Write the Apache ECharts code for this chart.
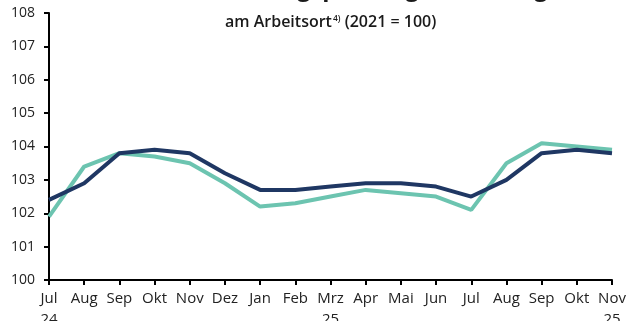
<!DOCTYPE html>
<html>
<head>
<meta charset="utf-8">
<script src="https://cdn.jsdelivr.net/npm/echarts@6/dist/echarts.min.js"></script>
<style>
  html, body { margin: 0; padding: 0; background: #fff; }
  #chart { width: 626px; height: 321px; }
</style>
</head>
<body>
<div id="chart"></div>
<script>
// Monthly index values, July 2024 – November 2025 (2021 = 100)
const months = ['Jul\n24', 'Aug', 'Sep', 'Okt', 'Nov', 'Dez', 'Jan', 'Feb', 'Mrz\n25', 'Apr', 'Mai', 'Jun', 'Jul', 'Aug', 'Sep', 'Okt', 'Nov\n25'];
const seriesTeal = [101.9, 103.4, 103.8, 103.7, 103.5, 102.9, 102.2, 102.3, 102.5, 102.7, 102.6, 102.5, 102.1, 103.5, 104.1, 104.0, 103.9];
const seriesNavy = [102.4, 102.9, 103.8, 103.9, 103.8, 103.2, 102.7, 102.7, 102.8, 102.9, 102.9, 102.8, 102.5, 103.0, 103.8, 103.9, 103.8];
const yTicks = { min: 100, max: 108, interval: 1 };

const FONT = '"Open Sans", "Noto Sans", sans-serif';
const chart = echarts.init(document.getElementById('chart'), null, { renderer: 'canvas' });

chart.setOption({
  animation: false,
  backgroundColor: '#ffffff',
  textStyle: { fontFamily: FONT },
  grid: { left: 49, right: 14, top: 13, bottom: 41, containLabel: false, outerBoundsMode: 'none' },
  graphic: [
    {
      type: 'text',
      left: 90,
      top: -23,
      style: {
        text: 'Sozialversicherungspflichtig Beschäftigte',
        font: 'bold 23.5px ' + FONT,
        fill: '#1a1a1a'
      },
      silent: true
    },
    {
      type: 'text',
      left: 225,
      top: 13,
      style: {
        text: 'am Arbeitsort{sup|4)} (2021 = 100)',
        font: '600 16px ' + FONT,
        fill: '#1a1a1a',
        lineHeight: 18,
        rich: {
          sup: { fontSize: 8.5, fontWeight: 600, fontFamily: FONT, lineHeight: 9, verticalAlign: 'top', padding: [1, 0, 0, 1], fill: '#1a1a1a' }
        }
      },
      silent: true
    }
  ],
  xAxis: {
    type: 'category',
    data: months,
    boundaryGap: false,
    axisLine: { lineStyle: { color: '#000', width: 2 } },
    axisTick: { show: true, alignWithLabel: true, length: 5, lineStyle: { color: '#000', width: 2 } },
    axisLabel: { color: '#222', fontSize: 15, margin: 8.5, lineHeight: 21, interval: 0 },
    splitLine: { show: false }
  },
  yAxis: {
    type: 'value',
    min: yTicks.min,
    max: yTicks.max,
    interval: yTicks.interval,
    axisLine: { show: true, lineStyle: { color: '#000', width: 2 } },
    axisTick: { show: true, length: 5, lineStyle: { color: '#000', width: 2 } },
    axisLabel: { color: '#222', fontSize: 14, margin: 14 },
    splitLine: { show: false }
  },
  series: [
    {
      name: 'teal',
      type: 'line',
      data: seriesTeal,
      symbol: 'none',
      lineStyle: { color: '#6cc4b0', width: 4 },
      z: 2
    },
    {
      name: 'navy',
      type: 'line',
      data: seriesNavy,
      symbol: 'none',
      lineStyle: { color: '#1f3763', width: 4 },
      z: 3
    }
  ]
});
</script>
</body>
</html>
